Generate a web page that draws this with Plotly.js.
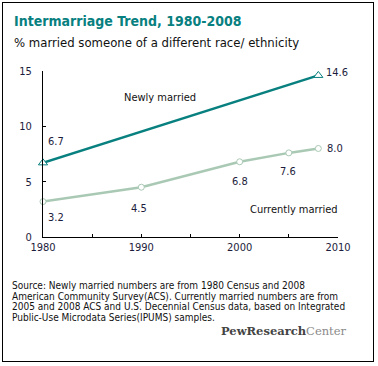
<!DOCTYPE html>
<html><head><meta charset="utf-8">
<script src="https://cdn.plot.ly/plotly-3.0.1.min.js"></script>
<style>
html,body{margin:0;padding:0;background:#fff;}
#wrap{position:relative;width:378px;height:366px;}
#chart{position:absolute;left:0;top:0;width:378px;height:366px;}
#frame{position:absolute;left:2px;top:2px;width:370px;height:358px;border:1px solid #000;pointer-events:none;}
</style></head>
<body>
<div id="wrap"><div id="chart"></div><div id="frame"></div></div>
<script>
const newlyYears = [1980, 2008];
const newlyValues = [6.7, 14.6];
const currentYears = [1980, 1990, 2000, 2005, 2008];
const currentValues = [3.2, 4.5, 6.8, 7.6, 8.0];
const xTickVals = [1980, 1985, 1990, 1995, 2000, 2005, 2010];
const xTickText = ['1980', '', '1990', '', '2000', '', '2010'];
const yTickVals = [0, 5, 10, 15];
const titleText = 'Intermarriage Trend, 1980-2008';
const subtitleText = '% married someone of a different race/ ethnicity';
const sourceLines = [
  'Source: Newly married numbers are from 1980 Census and 2008',
  'American Community Survey(ACS). Currently married numbers are from',
  '2005 and 2008 ACS and U.S. Decennial Census data, based on Integrated',
  'Public-Use Microdata Series(IPUMS) samples.'
];

const FONT = "Tahoma, 'DejaVu Sans Condensed', 'DejaVu Sans', sans-serif";
const TEAL = '#08807f';
const LIGHT = '#a9c9b4';
const LABEL = '#1c1c3c';

const traces = [
  {x: newlyYears, y: newlyValues, mode: 'lines+markers', type: 'scatter',
   line: {color: TEAL, width: 2.5},
   marker: {symbol: 'triangle-up', size: 8, color: '#fff', line: {color: TEAL, width: 1}},
   hoverinfo: 'skip', cliponaxis: false},
  {x: currentYears, y: currentValues, mode: 'lines+markers', type: 'scatter',
   line: {color: LIGHT, width: 2.5},
   marker: {symbol: 'circle', size: 6, color: '#fff', line: {color: LIGHT, width: 1}},
   hoverinfo: 'skip', cliponaxis: false}
];

const ann = [];
const lab = (x, y, t, opts) => Object.assign({x: x, y: y, xref: 'x', yref: 'y', text: t, showarrow: false,
  font: {family: FONT, size: 11, color: LABEL}}, opts);
const fmt = v => v.toFixed(1);
ann.push(lab(newlyYears[0], newlyValues[0], fmt(newlyValues[0]), {xshift: 13, yshift: 21}));
ann.push(lab(newlyYears[1], newlyValues[1], fmt(newlyValues[1]), {xanchor: 'left', xshift: 6, yshift: 3}));
const curOff = [[13, -16], [-2, -21], [0, -20], [-1, -19]];
for (let i = 0; i < 4; i++) {
  ann.push(lab(currentYears[i], currentValues[i], fmt(currentValues[i]), {xshift: curOff[i][0], yshift: curOff[i][1]}));
}
ann.push(lab(currentYears[4], currentValues[4], fmt(currentValues[4]), {xanchor: 'left', xshift: 7, yshift: 0}));
ann.push(lab(1991.9, 12.65, 'Newly married', {font: {family: FONT, size: 11, color: '#111'}}));
ann.push(lab(2005.55, 2.45, 'Currently married', {font: {family: FONT, size: 11, color: '#111'}}));

const px = p => (p - 43.3) / 295;
const py = p => (237.3 - p) / 166.3;
ann.push({xref: 'paper', yref: 'paper', x: px(12), y: py(20.5), xanchor: 'left', yanchor: 'middle',
  text: '<b>' + titleText + '</b>', showarrow: false, font: {family: FONT, size: 14, color: TEAL}});
ann.push({xref: 'paper', yref: 'paper', x: px(12), y: py(42), xanchor: 'left', yanchor: 'middle',
  text: subtitleText, showarrow: false, font: {family: FONT, size: 13, color: '#111'}});
const srcY = [286, 296.5, 307, 317.5];
sourceLines.forEach((t, i) => {
  ann.push({xref: 'paper', yref: 'paper', x: px(10), y: py(srcY[i]), xanchor: 'left', yanchor: 'middle',
    text: t, showarrow: false, font: {family: FONT, size: 10, color: '#111'}});
});
ann.push({xref: 'paper', yref: 'paper', x: px(349), y: py(331), xanchor: 'right', yanchor: 'middle',
  text: '<b>PewResearch</b><span style="color:#8a8a8a">Center</span>', showarrow: false,
  font: {family: "'DejaVu Serif', 'Liberation Serif', serif", size: 11.5, color: '#444'}});

const layout = {
  width: 378, height: 366,
  margin: {l: 43.3, r: 39.7, t: 71, b: 128.7, pad: 0},
  paper_bgcolor: '#fff', plot_bgcolor: '#fff',
  showlegend: false,
  xaxis: {range: [1980, 2010], tickvals: xTickVals, ticktext: xTickText, ticks: 'inside', ticklen: 3,
    tickcolor: '#000', showline: true, linecolor: '#000', linewidth: 1, showgrid: false, zeroline: false,
    tickfont: {family: FONT, size: 11, color: LABEL}, fixedrange: true},
  yaxis: {range: [0, 15], tickvals: yTickVals, ticks: 'inside', ticklen: 3, tickcolor: '#000',
    showline: true, linecolor: '#000', linewidth: 1, showgrid: false, zeroline: false,
    tickfont: {family: FONT, size: 11, color: LABEL}, ticklabelstandoff: 8, fixedrange: true},
  annotations: ann
};
Plotly.newPlot('chart', traces, layout, {staticPlot: true, displayModeBar: false});
</script>
</body></html>
